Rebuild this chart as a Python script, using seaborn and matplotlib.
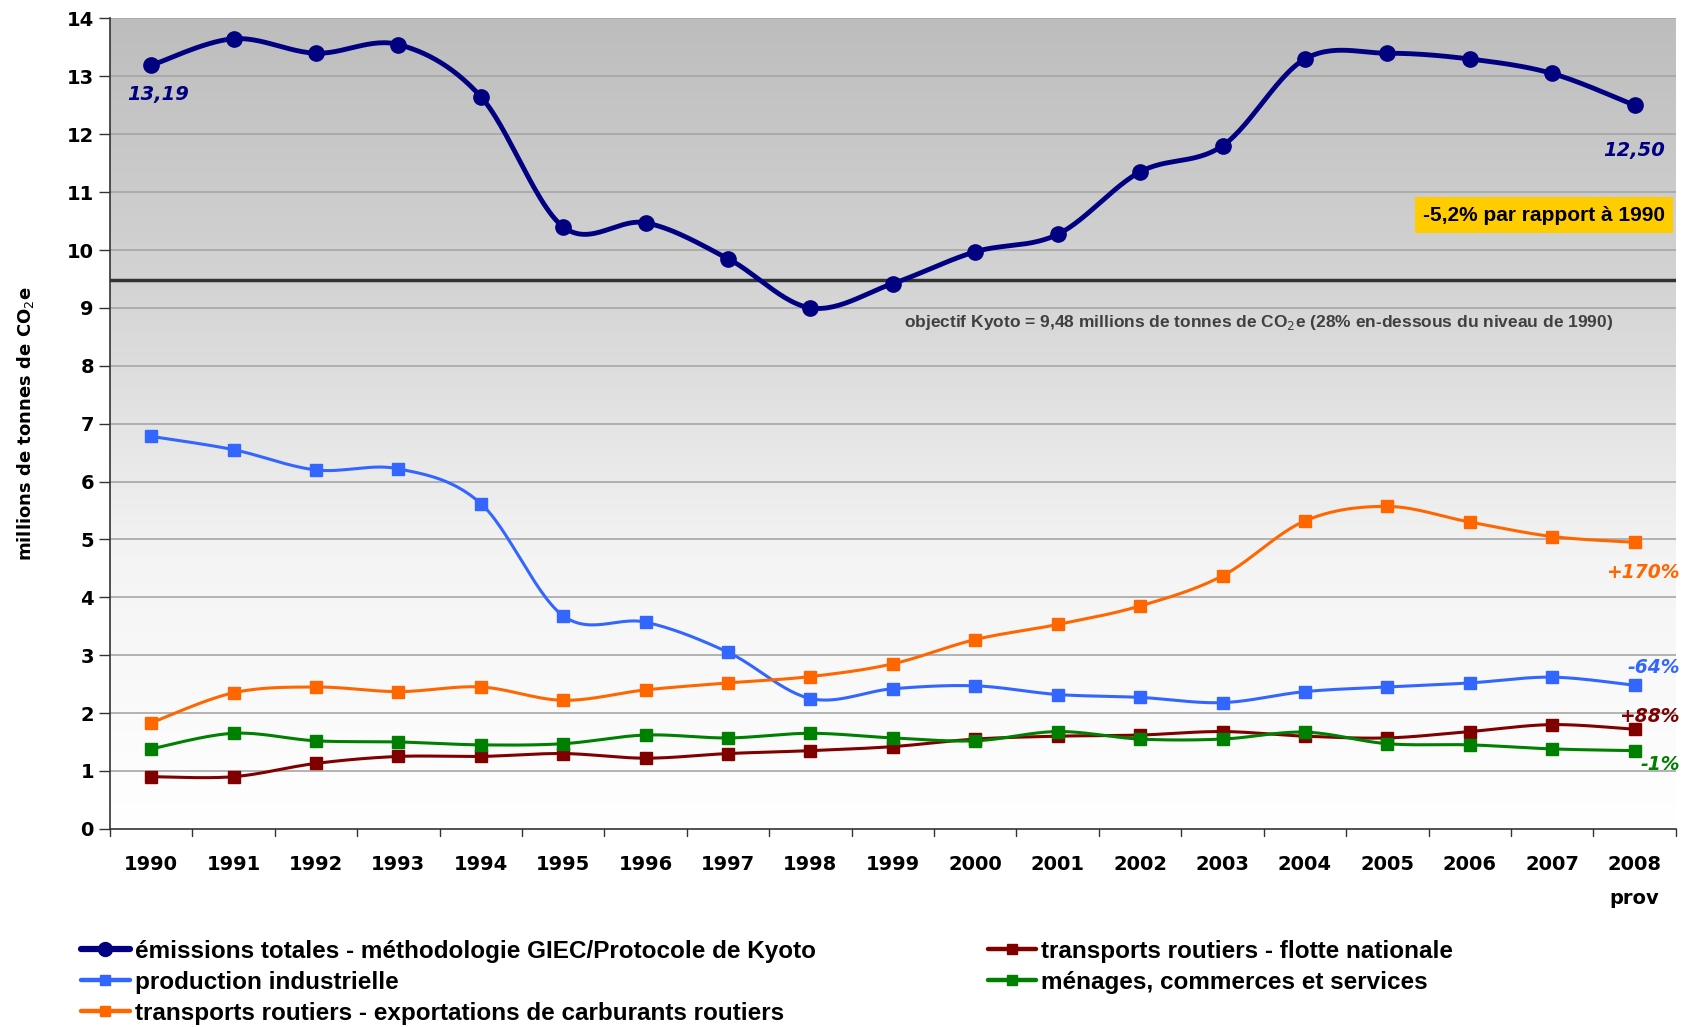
import numpy as np
import matplotlib
matplotlib.use('Agg')
import matplotlib.pyplot as plt
import seaborn as sns
import pandas as pd

# donnees (millions de tonnes CO2e)
annees = ['1990', '1991', '1992', '1993', '1994', '1995', '1996', '1997', '1998', '1999',
          '2000', '2001', '2002', '2003', '2004', '2005', '2006', '2007', '2008\nprov']
total = [13.19, 13.65, 13.40, 13.55, 12.65, 10.40, 10.47, 9.85, 9.00, 9.42,
         9.97, 10.27, 11.35, 11.80, 13.30, 13.40, 13.30, 13.05, 12.50]
industrie = [6.78, 6.55, 6.20, 6.22, 5.62, 3.68, 3.57, 3.05, 2.25, 2.42,
             2.47, 2.32, 2.27, 2.18, 2.37, 2.45, 2.52, 2.62, 2.48]
export_carb = [1.83, 2.35, 2.45, 2.37, 2.45, 2.22, 2.40, 2.52, 2.63, 2.85,
               3.27, 3.53, 3.85, 4.37, 5.32, 5.57, 5.30, 5.05, 4.95]
flotte = [0.90, 0.90, 1.13, 1.25, 1.25, 1.30, 1.22, 1.30, 1.35, 1.42,
          1.55, 1.60, 1.62, 1.68, 1.60, 1.57, 1.68, 1.80, 1.72]
menages = [1.38, 1.65, 1.52, 1.50, 1.45, 1.47, 1.62, 1.57, 1.65, 1.57,
           1.52, 1.68, 1.55, 1.55, 1.67, 1.47, 1.45, 1.38, 1.35]
kyoto = 9.48

series = [
    ('émissions totales - méthodologie GIEC/Protocole de Kyoto', total, '#000080', 'o', 3.5, 11),
    ('production industrielle', industrie, '#3366FF', 's', 2.2, 8),
    ('transports routiers - exportations de carburants routiers', export_carb, '#FF6600', 's', 2.2, 8),
    ('transports routiers - flotte nationale', flotte, '#800000', 's', 2.2, 8),
    ('ménages, commerces et services', menages, '#008000', 's', 2.2, 8),
]


def lisser(y, n=30):
    # courbe lissee style Excel (bezier type catmull-rom)
    y = np.asarray(y, dtype=float)
    x = np.arange(len(y), dtype=float)
    px = np.concatenate([[x[0]], x, [x[-1]]])
    py = np.concatenate([[y[0]], y, [y[-1]]])
    t = np.linspace(0, 1, n)
    xs, ys = [], []
    for i in range(1, len(px) - 2):
        p0 = np.array([px[i], py[i]])
        p3 = np.array([px[i + 1], py[i + 1]])
        p1 = p0 + (np.array([px[i + 1], py[i + 1]]) - np.array([px[i - 1], py[i - 1]])) / 6
        p2 = p3 - (np.array([px[i + 2], py[i + 2]]) - np.array([px[i], py[i]])) / 6
        b = ((1 - t) ** 3)[:, None] * p0 + (3 * (1 - t) ** 2 * t)[:, None] * p1 \
            + (3 * (1 - t) * t ** 2)[:, None] * p2 + (t ** 3)[:, None] * p3
        xs.append(b[:, 0])
        ys.append(b[:, 1])
    return np.concatenate(xs), np.concatenate(ys)


sns.set_style('white')
plt.rcParams['font.family'] = ['DejaVu Sans']
plt.rcParams['text.color'] = 'black'
plt.rcParams['axes.labelcolor'] = 'black'
plt.rcParams['xtick.color'] = 'black'
plt.rcParams['ytick.color'] = 'black'
narrow = ['Liberation Sans', 'DejaVu Sans']

fig = plt.figure(figsize=(16.91, 10.27), dpi=100)
ax = fig.add_axes([0.065, 0.193, 0.926, 0.789])

# fond degrade gris -> blanc
grad = np.linspace(0, 1, 256)[:, None]
ax.imshow(grad, cmap=matplotlib.colors.LinearSegmentedColormap.from_list(
    'g', ['#ffffff', '#f4f4f4', '#d4d4d4', '#bdbdbd']),
    extent=[-0.5, 18.5, 0, 14], aspect='auto', origin='lower', zorder=0)

for yv in range(1, 15):
    ax.axhline(yv, color='#a6a6a6', lw=1.2, zorder=1)

ax.axhline(kyoto, color='#333333', lw=2.5, zorder=2)

handles = []
for nom, vals, col, mk, lw, ms in series:
    xs, ys = lisser(vals)
    df = pd.DataFrame({'x': xs, 'y': ys})
    sns.lineplot(data=df, x='x', y='y', ax=ax, color=col, lw=lw, sort=False,
                 estimator=None, zorder=3)
    ax.plot(range(len(vals)), vals, ls='none', marker=mk, ms=ms, color=col, zorder=4)
    h, = ax.plot([], [], color=col, lw=lw + 1, marker=mk, ms=ms - 1)
    handles.append(h)

ax.set_xlim(-0.5, 18.5)
ax.set_ylim(0, 14)
ax.set_yticks(range(0, 15))
ax.set_xticks(range(len(annees)))
ax.set_xticklabels(annees, fontsize=14, fontweight='bold', linespacing=2.0)
for lab in ax.get_xticklabels():
    lab.set_verticalalignment('top')
ax.tick_params(axis='y', labelsize=14, length=8, width=1, direction='out', left=True,
               color='#333333')
ax.tick_params(axis='x', length=0, pad=19)
for lab in ax.get_yticklabels():
    lab.set_fontweight('bold')
# petits traits entre les categories
for xb in np.arange(-0.5, 19, 1):
    ax.plot([xb, xb], [0, -0.12], color='#333333', lw=1, clip_on=False, zorder=5)

ax.set_xlabel('')
ax.set_ylabel('millions de tonnes de CO$_2$e', fontsize=13, fontweight='bold', labelpad=22)
for s in ['top', 'right']:
    ax.spines[s].set_visible(False)
for s in ['left', 'bottom']:
    ax.spines[s].set_color('#333333')
    ax.spines[s].set_linewidth(1.2)

# etiquettes
ax.text(0.08, 12.85, '13,19', color='#000080', fontsize=14, fontweight='bold',
        style='italic', ha='center', va='top')
ax.text(18.0, 11.72, '12,50', color='#000080', fontsize=14, fontweight='bold',
        style='italic', ha='center', va='center')
ax.text(18.55, 4.6, '+170%', color='#FF6600', fontsize=13.5, fontweight='bold',
        style='italic', ha='right', va='top')
ax.text(18.55, 2.62, '-64%', color='#3366FF', fontsize=13.5, fontweight='bold',
        style='italic', ha='right', va='bottom')
ax.text(18.55, 1.78, '+88%', color='#800000', fontsize=13.5, fontweight='bold',
        style='italic', ha='right', va='bottom')
ax.text(18.55, 1.27, '-1%', color='#008000', fontsize=13.5, fontweight='bold',
        style='italic', ha='right', va='top')

ax.text(16.9, 10.6, '-5,2% par rapport à 1990', family=narrow, fontsize=15,
        fontweight='bold', color='black', ha='center', va='center',
        bbox=dict(boxstyle='square,pad=0.4', fc='#FFCC00', ec='none'), zorder=6)
ax.text(13.44, 8.75, 'objectif Kyoto = 9,48 millions de tonnes de CO$_2$e (28% en-dessous du niveau de 1990)',
        family=narrow, fontsize=12.5, fontweight='bold', color='#404040',
        ha='center', va='center', zorder=6)

legprops = {'family': narrow, 'size': 17.5, 'weight': 'bold'}
leg1 = fig.legend(handles[:3], [s[0] for s in series[:3]], loc='upper left',
                  bbox_to_anchor=(0.048, 0.085), frameon=False, prop=legprops,
                  handlelength=2.0, handletextpad=0.2, labelspacing=0.33,
                  borderaxespad=0, borderpad=0, labelcolor='black')
leg2 = fig.legend(handles[3:], [s[0] for s in series[3:]], loc='upper left',
                  bbox_to_anchor=(0.584, 0.085), frameon=False, prop=legprops,
                  handlelength=2.0, handletextpad=0.2, labelspacing=0.33,
                  borderaxespad=0, borderpad=0, labelcolor='black')

fig.savefig('out.png', dpi=100)
